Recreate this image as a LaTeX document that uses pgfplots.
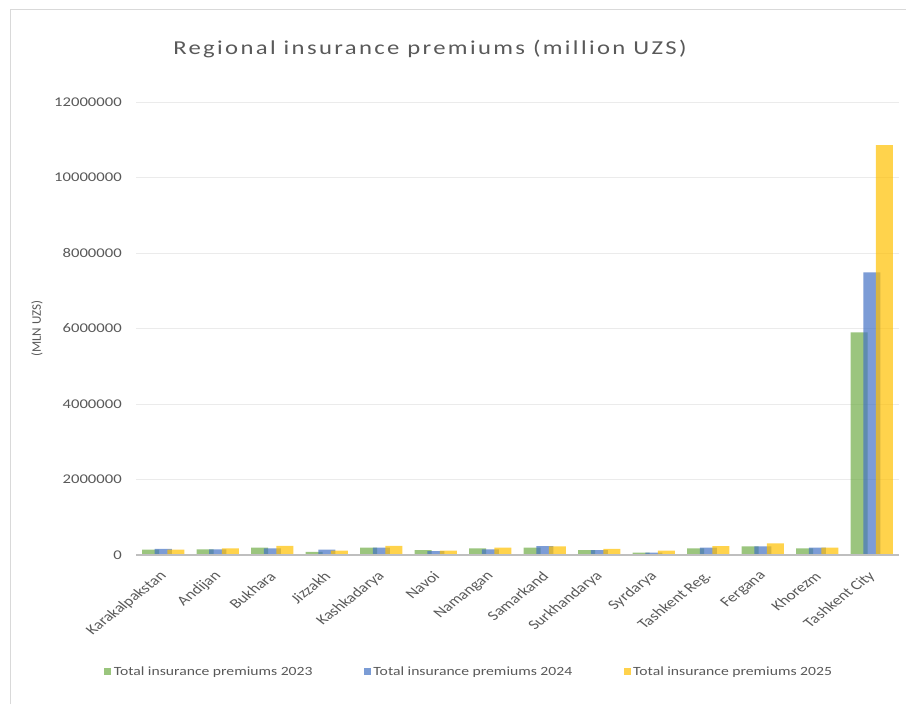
\documentclass[border=0pt]{standalone}
\usepackage{pgfplots}
\pgfplotsset{compat=1.18}
\usepackage{fontspec}
\setmainfont[FakeStretch=1.25]{Carlito}
\newfontfamily\plainfont{Carlito}
\newfontfamily\titlefont[FakeStretch=1.25,LetterSpace=12]{Carlito}
\definecolor{cgreen}{HTML}{70AD47}
\definecolor{cblue}{HTML}{4472C4}
\definecolor{cyellow}{HTML}{FFC000}
\definecolor{txt}{HTML}{595959}
\definecolor{grid}{HTML}{EBEBEB}
\pgfplotstableread{
x y23 y24 y25
0 140000 160000 140000
1 150000 150000 175000
2 195000 175000 245000
3 80000 140000 115000
4 195000 195000 245000
5 130000 105000 115000
6 175000 150000 195000
7 195000 235000 230000
8 130000 130000 160000
9 65000 65000 115000
10 175000 195000 235000
11 230000 230000 310000
12 175000 195000 195000
13 5900000 7490000 10860000
}\datatable
\begin{document}
\begin{tikzpicture}
\useasboundingbox (0pt,0pt) rectangle (679.5pt,528pt);
\draw[color=black!15, line width=0.75pt] (7.5pt,0pt) -- (7.5pt,520.5pt) -- (679.5pt,520.5pt);
\node[text=txt, font=\titlefont\fontsize{14.8}{18}\selectfont, anchor=center] at (322.5pt,491.5pt) {Regional insurance premiums (million UZS)};
\begin{axis}[
  at={(102pt,111.75pt)}, anchor=south west,
  scale only axis, width=572.25pt, height=339.75pt,
  xmin=-0.5, xmax=13.5, ymin=0, ymax=12000000,
  xtick={0,1,2,3,4,5,6,7,8,9,10,11,12,13},
  xticklabels={Karakalpakstan,Andijan,Bukhara,Jizzakh,Kashkadarya,Navoi,Namangan,Samarkand,Surkhandarya,Syrdarya,Tashkent Reg.,Fergana,Khorezm,Tashkent City},
  x tick label style={xshift=1.5pt, yshift=-13.5pt, cm={0.898,0.707,-0.898,0.707,(0,0)}, anchor=east, font=\plainfont\fontsize{10.2}{11}\selectfont, text=txt, inner sep=1pt},
  ytick={0,2000000,4000000,6000000,8000000,10000000,12000000},
  yticklabels={0,2000000,4000000,6000000,8000000,10000000,12000000},
  y tick label style={font=\fontsize{10}{11}\selectfont, text=txt, anchor=east, xshift=-10.5pt, inner sep=0pt},
  scaled y ticks=false,
  ymajorgrids, grid style={color=grid, line width=0.6pt},
  axis line style={draw=none},
  major tick length=0pt,
  ylabel={(MLN UZS)}, ylabel style={font=\plainfont\fontsize{9.8}{11}\selectfont, text=txt, at={(axis description cs:-0.1297,0.5)}, anchor=center},
  bar width=0.312,
  legend style={at={(0.437,-0.258)}, anchor=center, draw=none, legend columns=3, font=\fontsize{9.4}{11}\selectfont, text=txt, /tikz/every even column/.append style={column sep=36.5pt}},
  legend image code/.code={\fill[#1] (1.5pt,-2.6pt) rectangle (6.7pt,2.6pt);},
  clip=false,
]
\addplot[ybar, bar shift=-0.233, fill=cgreen, fill opacity=0.7, draw=none] table[x=x,y=y23]{\datatable};
\addplot[ybar, bar shift=0, fill=cblue, fill opacity=0.7, draw=none] table[x=x,y=y24]{\datatable};
\addplot[ybar, bar shift=0.233, fill=cyellow, fill opacity=0.7, draw=none] table[x=x,y=y25]{\datatable};
\draw[color=black!25, line width=1.5pt] (axis cs:-0.5,0) -- (axis cs:13.5,0);
\legend{Total insurance premiums 2023,Total insurance premiums 2024,Total insurance premiums 2025}
\end{axis}
\end{tikzpicture}
\end{document}
